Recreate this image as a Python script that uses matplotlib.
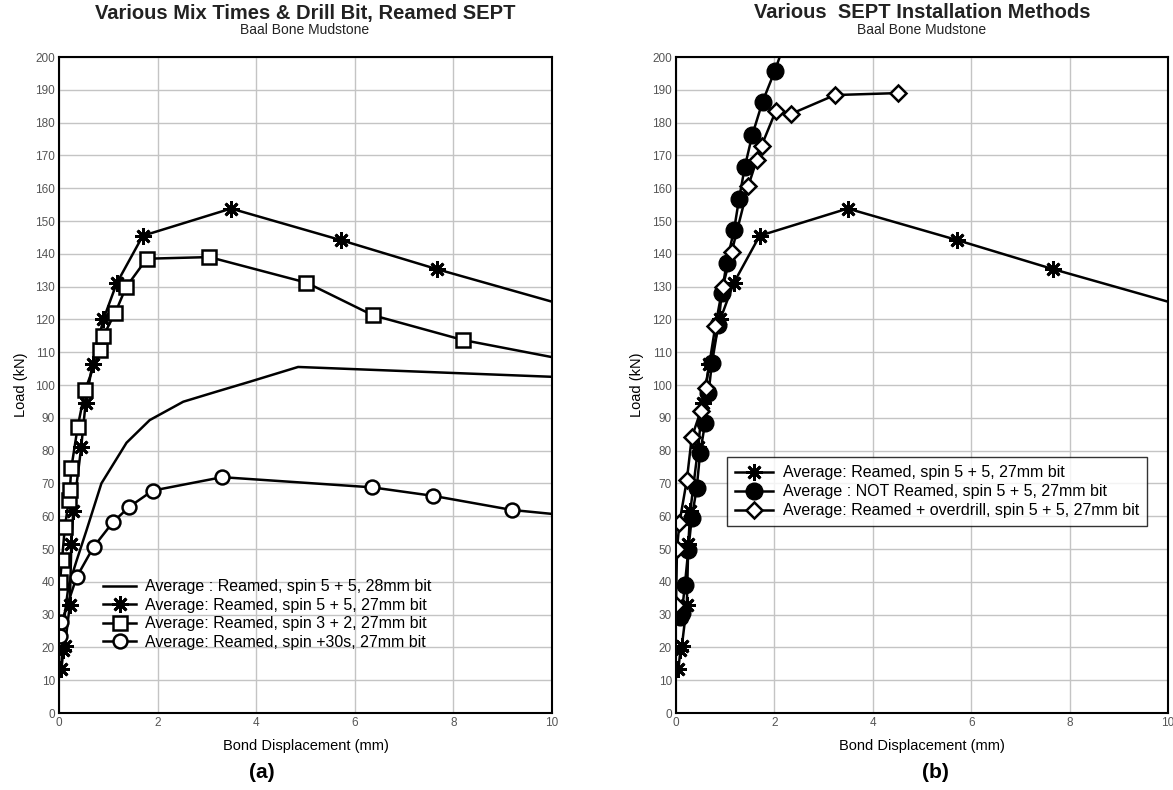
import matplotlib
matplotlib.use("Agg")
import matplotlib.pyplot as plt
from matplotlib.lines import Line2D

plt.rcParams["font.family"] = ["Liberation Sans", "DejaVu Sans"]

# ── data ─────────────────────────────────────────────────────────────────────
# Reamed, spin 5 + 5, 27mm bit (asterisks, used in both panels)
star_x = [0.05, 0.09, 0.12, 0.22, 0.25, 0.29, 0.45, 0.54, 0.68, 0.90, 1.17, 1.70, 3.49, 5.71, 7.67, 10.0]
star_y = [13.5, 19.2, 20.5, 33.0, 51.5, 61.5, 81.0, 94.5, 106.5, 120.0, 131.0, 145.5, 153.8, 144.2, 135.3, 125.4]

# Reamed, spin 5 + 5, 28mm bit (plain line)
line_x = [0.05, 0.10, 0.19, 0.36, 0.56, 0.86, 1.37, 1.84, 2.52, 3.20, 3.87, 4.85, 10.0]
line_y = [15.0, 28.0, 38.5, 46.6, 55.8, 70.0, 82.4, 89.3, 94.9, 98.0, 101.0, 105.5, 102.5]

# Reamed, spin 3 + 2, 27mm bit (squares)
sq_x = [0.02, 0.06, 0.12, 0.20, 0.22, 0.25, 0.38, 0.53, 0.83, 0.90, 1.14, 1.36, 1.78, 3.05, 5.02, 6.36, 8.20, 10.0]
sq_y = [40.0, 46.6, 56.8, 65.0, 68.0, 74.7, 87.3, 98.5, 110.7, 115.0, 122.0, 129.8, 138.5, 139.0, 131.2, 121.3, 113.7, 108.5]

# Reamed, spin +30s, 27mm bit (open circles)
circ_x = [0.03, 0.05, 0.36, 0.70, 1.10, 1.43, 1.90, 3.31, 6.35, 7.59, 9.19, 10.0]
circ_y = [23.5, 27.6, 41.5, 50.6, 58.3, 62.9, 67.8, 71.9, 68.8, 66.2, 61.9, 60.7]

# NOT Reamed, spin 5 + 5, 27mm bit (filled circles)
fill_x = [0.08, 0.12, 0.18, 0.25, 0.32, 0.42, 0.49, 0.59, 0.66, 0.73, 0.86, 0.93, 1.03, 1.18, 1.28, 1.40, 1.55, 1.76, 2.01, 2.20]
fill_y = [29.4, 30.5, 39.0, 49.7, 59.4, 68.5, 79.2, 88.3, 97.5, 106.6, 118.3, 128.0, 137.3, 147.3, 156.6, 166.6, 176.2, 186.4, 195.8, 204.0]

# Reamed + overdrill, spin 5 + 5, 27mm bit (diamonds)
dia_x = [0.00, 0.02, 0.07, 0.22, 0.32, 0.50, 0.60, 0.80, 0.95, 1.13, 1.47, 1.64, 1.74, 2.03, 2.33, 3.23, 4.52]
dia_y = [33.0, 50.0, 58.0, 71.0, 84.0, 92.0, 99.0, 118.0, 130.0, 140.5, 160.7, 168.6, 173.0, 183.6, 182.6, 188.4, 189.0]

labels_a = [
    "Average : Reamed, spin 5 + 5, 28mm bit",
    "Average: Reamed, spin 5 + 5, 27mm bit",
    "Average: Reamed, spin 3 + 2, 27mm bit",
    "Average: Reamed, spin +30s, 27mm bit",
]
labels_b = [
    "Average: Reamed, spin 5 + 5, 27mm bit",
    "Average : NOT Reamed, spin 5 + 5, 27mm bit",
    "Average: Reamed + overdrill, spin 5 + 5, 27mm bit",
]

# ── styles ───────────────────────────────────────────────────────────────────
W, H = 1173, 790
LW = 1.8
STAR = dict(marker=(8, 2, 0), ms=12, mew=2.0, mfc="black", mec="black")
SQ   = dict(marker="s", ms=10, mew=1.8, mfc="white", mec="black")
CIRC = dict(marker="o", ms=10, mew=1.8, mfc="white", mec="black")
FILL = dict(marker="o", ms=12, mew=1.0, mfc="black", mec="black")
DIA  = dict(marker="D", ms=8.5, mew=1.8, mfc="white", mec="black")
LEG_FS = 11.5

fig = plt.figure(figsize=(W / 100, H / 100), dpi=100, facecolor="white")


def px_axes(x0, x1, y0, y1):
    return fig.add_axes([x0 / W, 1 - y1 / H, (x1 - x0) / W, (y1 - y0) / H])


def style(ax):
    ax.set_xlim(0, 10)
    ax.set_ylim(0, 200)
    ax.set_xticks(range(0, 11, 2))
    ax.set_yticks(range(0, 201, 10))
    ax.grid(True, color="#c4c4c4", lw=1.0)
    ax.set_axisbelow(True)
    for s in ax.spines.values():
        s.set_linewidth(1.5)
        s.set_color("black")
    ax.tick_params(length=0, pad=3, labelsize=8.5, labelcolor="#555555")
    ax.set_xlabel("Bond Displacement (mm)", fontsize=10.5)
    ax.set_ylabel("Load (kN)", fontsize=10.5)
    ax.xaxis.set_label_coords(0.5, -0.039)


def handle(style_kw):
    return Line2D([], [], color="black", lw=LW, **style_kw)


# ══ (a) ══════════════════════════════════════════════════════════════════════
axa = px_axes(59, 552, 57, 713)
style(axa)
axa.yaxis.set_label_coords(-0.062, 0.5)

axa.plot(line_x, line_y, color="black", lw=LW)
axa.plot(star_x, star_y, color="black", lw=LW, markevery=slice(0, -1), **STAR)
axa.plot(sq_x, sq_y, color="black", lw=LW, markevery=slice(0, -1), **SQ)
axa.plot(circ_x, circ_y, color="black", lw=LW, markevery=slice(0, -1), **CIRC)

handles_a = [Line2D([], [], color="black", lw=LW), handle(STAR), handle(SQ), handle(CIRC)]
axa.legend(handles_a, labels_a, loc="upper left", bbox_to_anchor=(0.089, 0.204),
           frameon=False, fontsize=LEG_FS, handlelength=2.1, handletextpad=0.55,
           labelspacing=0.22, borderpad=0, borderaxespad=0, numpoints=1)

fig.text(305 / W, 1 - 13 / H, "Various Mix Times & Drill Bit, Reamed SEPT",
         ha="center", va="center", fontsize=14.5, fontweight="bold", color="#222222")
fig.text(305 / W, 1 - 30 / H, "Baal Bone Mudstone",
         ha="center", va="center", fontsize=10, color="#222222")
fig.text(262 / W, 1 - 773 / H, "(a)", ha="center", va="center",
         fontsize=15, fontweight="bold")

# ══ (b) ══════════════════════════════════════════════════════════════════════
axb = px_axes(676, 1168, 57, 713)
style(axb)
axb.yaxis.set_label_coords(-0.066, 0.5)

axb.plot(star_x, star_y, color="black", lw=LW, markevery=slice(0, -1), **STAR)
axb.plot(fill_x, fill_y, color="black", lw=LW, markevery=slice(0, -1), **FILL)
axb.plot(dia_x, dia_y, color="black", lw=LW, **DIA)

handles_b = [handle(STAR), handle(FILL), handle(DIA)]
leg = axb.legend(handles_b, labels_b, loc="upper left", bbox_to_anchor=(0.104, 0.39),
                 frameon=True, fancybox=False, fontsize=LEG_FS, handlelength=2.4,
                 handletextpad=0.6, labelspacing=0.26, borderpad=0.5,
                 borderaxespad=0, numpoints=1)
leg.get_frame().set_edgecolor("black")
leg.get_frame().set_linewidth(1.0)

fig.text(922 / W, 1 - 13 / H, "Various  SEPT Installation Methods",
         ha="center", va="center", fontsize=14.5, fontweight="bold", color="#222222")
fig.text(922 / W, 1 - 30 / H, "Baal Bone Mudstone",
         ha="center", va="center", fontsize=10, color="#222222")
fig.text(935 / W, 1 - 773 / H, "(b)", ha="center", va="center",
         fontsize=15, fontweight="bold")

fig.savefig("out.png", dpi=100, facecolor="white")
